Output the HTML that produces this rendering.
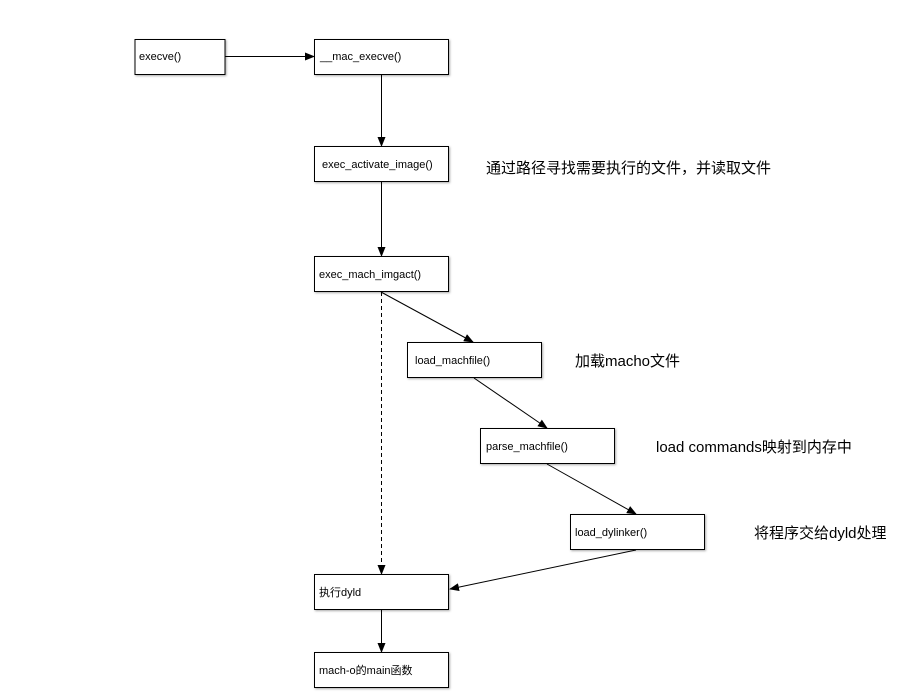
<!DOCTYPE html>
<html><head><meta charset="utf-8"><style>
body{margin:0;background:#fff;width:907px;height:692px;overflow:hidden}
svg text{font-family:"Liberation Sans","Noto Sans CJK SC",sans-serif}
</style></head><body>
<svg width="907" height="692" xmlns="http://www.w3.org/2000/svg">
<defs>
<marker id="a" markerWidth="10" markerHeight="8" refX="9" refY="4" orient="auto" markerUnits="userSpaceOnUse"><path d="M0,0 L10,4 L0,8 z" fill="#000"/></marker>
</defs>
<g fill="#fff" stroke="#000" stroke-width="1">
<rect x="135" y="39.5" width="90" height="35" style="filter:drop-shadow(1px 1px 1px #aaa)"/>
<rect x="314.5" y="39.5" width="134" height="35" style="filter:drop-shadow(1px 1px 1px #aaa)"/>
<rect x="314.5" y="146.5" width="134" height="35" style="filter:drop-shadow(1px 1px 1px #aaa)"/>
<rect x="314.5" y="256.5" width="134" height="35" style="filter:drop-shadow(1px 1px 1px #aaa)"/>
<rect x="407.5" y="342.5" width="134" height="35" style="filter:drop-shadow(1px 1px 1px #aaa)"/>
<rect x="480.5" y="428.5" width="134" height="35" style="filter:drop-shadow(1px 1px 1px #aaa)"/>
<rect x="570.5" y="514.5" width="134" height="35" style="filter:drop-shadow(1px 1px 1px #aaa)"/>
<rect x="314.5" y="574.5" width="134" height="35" style="filter:drop-shadow(1px 1px 1px #aaa)"/>
<rect x="314.5" y="652.5" width="134" height="35" style="filter:drop-shadow(1px 1px 1px #aaa)"/>
</g>
<g stroke="#000" stroke-width="1" fill="none" marker-end="url(#a)">
<line x1="225" y1="56.5" x2="314" y2="56.5"/>
<line x1="381.5" y1="75" x2="381.5" y2="146"/>
<line x1="381.5" y1="182" x2="381.5" y2="256"/>
<line x1="381.5" y1="292" x2="381.5" y2="574" stroke-dasharray="4,3"/>
<line x1="381" y1="292" x2="473" y2="342"/>
<line x1="474" y1="378" x2="547" y2="428"/>
<line x1="547" y1="464" x2="636" y2="514"/>
<line x1="636" y1="550" x2="450" y2="589"/>
<line x1="381.5" y1="610" x2="381.5" y2="652"/>
</g>
<g font-size="11" fill="#000">
<text x="139" y="60">execve()</text>
<text x="320" y="60">__mac_execve()</text>
<text x="322" y="168">exec_activate_image()</text>
<text x="319" y="278">exec_mach_imgact()</text>
<text x="415" y="364">load_machfile()</text>
<text x="486" y="450">parse_machfile()</text>
<text x="575" y="536">load_dylinker()</text>
<text x="319" y="596">执行dyld</text>
<text x="319" y="674">mach-o的main函数</text>
</g>
<g font-size="15" fill="#000">
<text x="486" y="173">通过路径寻找需要执行的文件，并读取文件</text>
<text x="575" y="366">加载macho文件</text>
<text x="656" y="452">load commands映射到内存中</text>
<text x="754" y="538">将程序交给dyld处理</text>
</g>
</svg>
</body></html>
